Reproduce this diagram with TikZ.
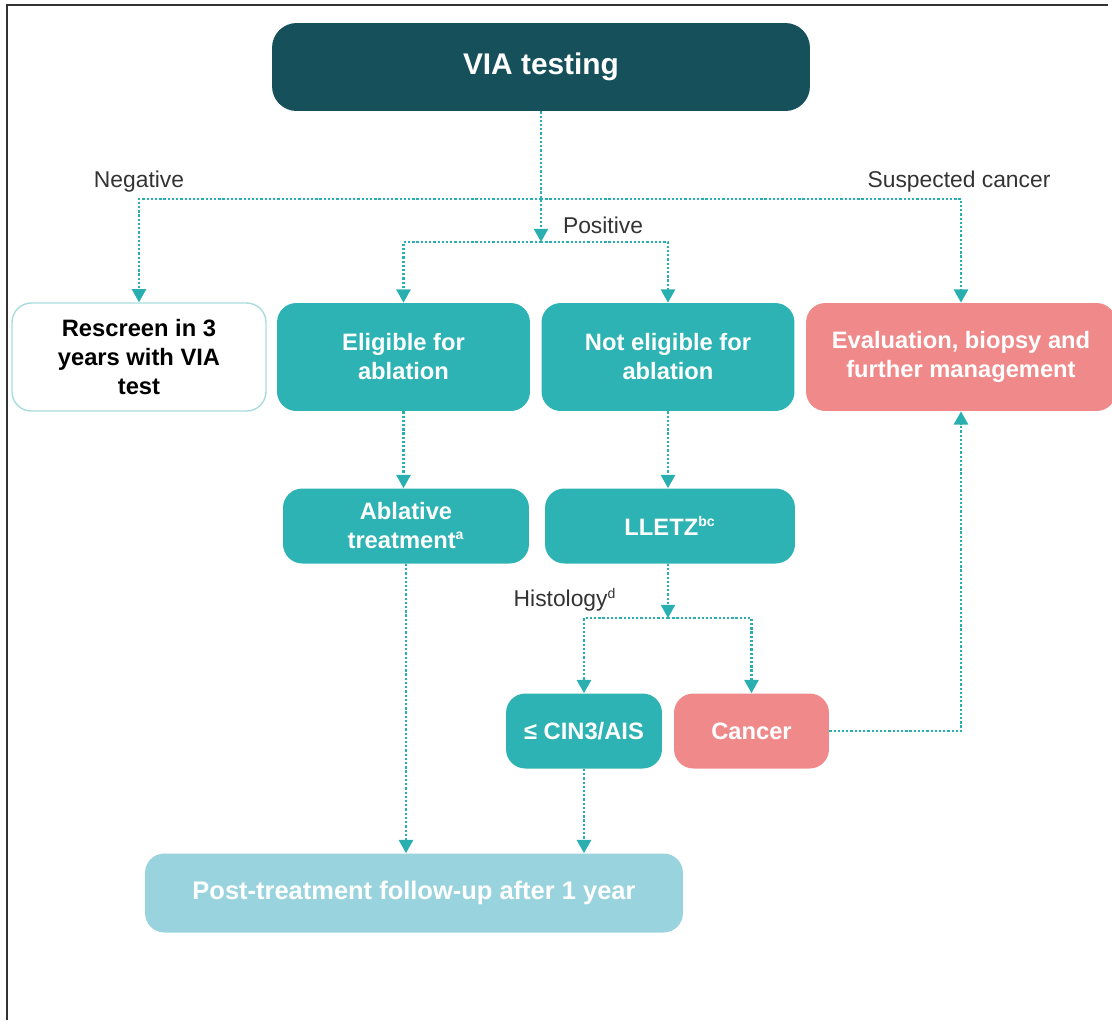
\documentclass[tikz,border=0pt]{standalone}
\usepackage{fontspec}
\setmainfont{Liberation Sans}
\usetikzlibrary{arrows.meta, calc, positioning}
\definecolor{Deep}{HTML}{15505B}
\definecolor{Teal}{HTML}{2DB3B3}
\definecolor{Link}{HTML}{2AAFB0}
\definecolor{Alert}{HTML}{F08A8A}
\definecolor{Follow}{HTML}{99D3DD}
\definecolor{Rim}{HTML}{A8DCDC}
\definecolor{Ink}{HTML}{333333}
\tikzset{
  box/.style={rounded corners=11pt, align=center, text=white, inner sep=0pt,
    font=\bfseries\fontsize{13.5}{16.5}\selectfont},
  tealbox/.style={box, fill=Teal},
  alertbox/.style={box, fill=Alert},
  flow/.style={-{Triangle[width=8pt,length=7.5pt]}, draw=Link, line width=1.3pt,
    dash pattern=on 1.3pt off 1.1pt},
  branch/.style={text=Ink, font=\fontsize{13}{15}\selectfont},
}
\newcommand{\supnote}[1]{\textsuperscript{\fontsize{8}{8}\selectfont #1}}

\begin{document}
\begin{tikzpicture}[x=0.02cm, y=-0.02cm]
  \useasboundingbox (0,0) rectangle (1112,1025);
  \draw[line width=0.8pt, black!80] (7,1020) -- (7,5) -- (1108,5);

  % boxes
  \node[box, fill=Deep, minimum width=10.76cm, minimum height=1.76cm, rounded corners=14pt,
    font=\bfseries\fontsize{17}{20}\selectfont] (via) at (541,67) {VIA testing};
  \node[box, fill=white, draw=Rim, line width=0.8pt, text=black,
    minimum width=5.08cm, minimum height=2.16cm] (rescreen) at (139,357) {Rescreen in 3\\years with VIA\\test};
  \node[tealbox, minimum width=5.06cm, minimum height=2.16cm] (elig) at (403.5,357) {Eligible for\\ablation};
  \node[tealbox, minimum width=5.06cm, minimum height=2.16cm] (noelig) at (668,357) {Not eligible for\\ablation};
  \node[alertbox, minimum width=6.2cm, minimum height=2.16cm] (evalmgmt) at (961,357) {Evaluation, biopsy and\\further management};
  \node[tealbox, minimum width=4.92cm, minimum height=1.5cm] (ablat) at (406,526) {Ablative\\treatment\supnote{a}};
  \node[tealbox, minimum width=5.0cm, minimum height=1.5cm] (lletz) at (670,526) {LLETZ\supnote{bc}};
  \node[tealbox, minimum width=3.12cm, minimum height=1.5cm] (cin) at (584,731) {≤ CIN3/AIS};
  \node[alertbox, minimum width=3.1cm, minimum height=1.5cm] (cancer) at (751.5,731) {Cancer};
  \node[box, fill=Follow, minimum width=10.76cm, minimum height=1.58cm,
    font=\bfseries\fontsize{14.5}{17}\selectfont] (post) at (414,893) {Post-treatment follow-up after 1 year};

  % branch labels
  \node[branch] (neglbl) at (139,182) {Negative};
  \node[branch] (poslbl) at (603,225) {Positive};
  \node[branch] (suslbl) at (959,182) {Suspected cancer};
  \node[branch] (histlbl) at (565,600) {Histology\supnote{d}};

  \coordinate (negsplit) at (541,199);
  \coordinate (possplit) at (541,242);
  \coordinate (histsplit) at (668,618);

  % connectors
  \draw[flow] (via.south) -- (possplit);
  \draw[flow] (negsplit) -| (rescreen.north);
  \draw[flow] (negsplit) -| (evalmgmt.north);
  \draw[flow] (possplit) -| (elig.north);
  \draw[flow] (possplit) -| (noelig.north);
  \draw[flow] (elig.south) -- (elig.south |- ablat.north);
  \draw[flow] (noelig.south) -- (noelig.south |- lletz.north);
  \draw[flow] (histsplit |- lletz.south) -- (histsplit);
  \draw[flow] (histsplit) -| (cin.north);
  \draw[flow] (histsplit) -| (cancer.north);
  \draw[flow] (cancer.east) -| (evalmgmt.south);
  \draw[flow] (ablat.south) -- (ablat.south |- post.north);
  \draw[flow] (cin.south) -- (cin.south |- post.north);
\end{tikzpicture}
\end{document}
